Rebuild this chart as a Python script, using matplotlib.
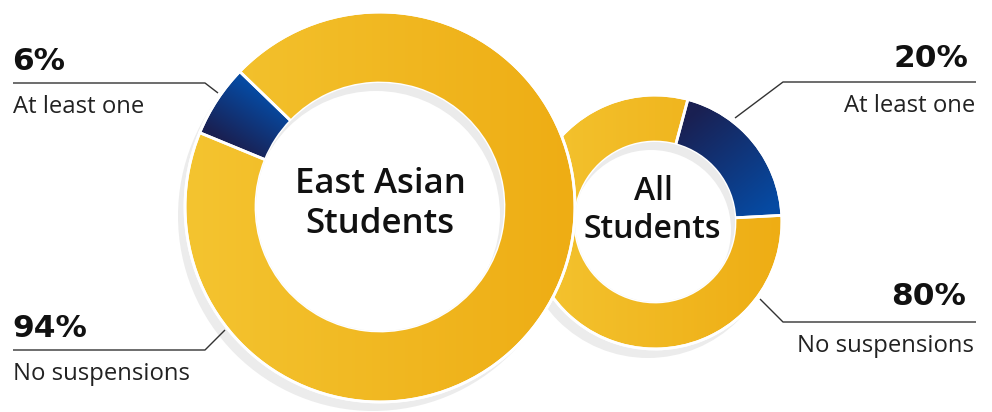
import matplotlib.pyplot as plt
from matplotlib.patches import Circle, Wedge
import numpy as np

W, H = 992, 412

groups = ["East Asian\nStudents", "All\nStudents"]
categories = ["At least one", "No suspensions"]
east_asian = [6, 94]
all_students = [20, 80]
pct_labels = [["6%", "94%"], ["20%", "80%"]]

YEL0, YEL1 = (244, 196, 48), (238, 173, 20)
BLU0, BLU1 = (26, 32, 82), (6, 74, 162)


def Y(y):
    return H - y


def gradient(ax, clip, extent, c0, c1, p0, p1, z):
    n = 300
    xs = np.linspace(extent[0], extent[1], n)
    ys = np.linspace(extent[2], extent[3], n)
    X, YY = np.meshgrid(xs, ys)
    d = np.array(p1) - np.array(p0)
    t = ((X - p0[0]) * d[0] + (YY - p0[1]) * d[1]) / (d @ d)
    t = np.clip(t, 0, 1)
    c0 = np.array(c0) / 255.0
    c1 = np.array(c1) / 255.0
    img = c0 * (1 - t[..., None]) + c1 * t[..., None]
    im = ax.imshow(img, extent=extent, origin="lower", aspect="auto", zorder=z, interpolation="bilinear")
    im.set_clip_path(clip)


def donut(ax, vals, cx, cy, R, r, start, z):
    cy = Y(cy)
    # drop shadow
    ax.add_patch(Circle((cx - 7, cy - 9), R, color="#ececec", zorder=z, lw=0))
    wedges, _ = ax.pie(vals, center=(cx, cy), radius=R, startangle=start, counterclock=False,
                       wedgeprops=dict(width=R - r, lw=0), colors=["#0d3c8a", "#f1b822"])
    ext = (cx - R, cx + R, cy - R, cy + R)
    rm = (R + r) / 2
    a0 = np.radians(start)
    a1 = np.radians(start - 360 * vals[0] / sum(vals))
    for i, w in enumerate(wedges):
        w.set_zorder(z + 1)
        if i == 0:
            p0 = (cx + rm * np.cos(a0), cy + rm * np.sin(a0))
            p1 = (cx + rm * np.cos(a1), cy + rm * np.sin(a1))
            gradient(ax, w, ext, BLU0, BLU1, p0, p1, z + 1.5)
        else:
            gradient(ax, w, ext, YEL0, YEL1, (cx - R, cy), (cx + R, cy), z + 1.5)
        ax.add_patch(Wedge(w.center, w.r, w.theta1, w.theta2, width=w.width, fill=False,
                           ec="white", lw=2, zorder=z + 2))
    ax.add_patch(Circle((cx, cy), R, fill=False, ec="white", lw=2, zorder=z + 2))
    # inner hole with soft inner shadow
    hole = Circle((cx, cy), r, color="#ebebeb", lw=0, zorder=z + 2.5)
    ax.add_patch(hole)
    inner = Circle((cx - 4, cy - 8), r, color="white", lw=0, zorder=z + 2.6)
    ax.add_patch(inner)
    inner.set_clip_path(hole)


fig = plt.figure(figsize=(W / 100, H / 100), dpi=100)
ax = fig.add_axes([0, 0, 1, 1])

donut(ax, all_students, 655, 222, 127, 80, 75, 1)
donut(ax, east_asian, 380, 207, 195, 124, 157.6, 10)

ax.set_xlim(0, W)
ax.set_ylim(0, H)
ax.set_aspect("equal")
ax.axis("off")

cfont = dict(family="Open Sans", weight="semibold", color="#111111", ha="center", va="baseline", zorder=30)
ax.text(380, Y(193), groups[0].split("\n")[0], fontsize=25, **cfont)
ax.text(380, Y(233), groups[0].split("\n")[1], fontsize=25, **cfont)
ax.text(653, Y(200), groups[1].split("\n")[0], fontsize=23, **cfont)
ax.text(652, Y(238), groups[1].split("\n")[1], fontsize=23, **cfont)

pfont = dict(family="DejaVu Sans", weight="bold", fontsize=22.5, color="#111111", va="baseline", zorder=30)
lfont = dict(family="Open Sans", fontsize=17.2, color="#222222", va="baseline", zorder=30)
lk = dict(color="#333333", lw=1, zorder=30, solid_capstyle="butt")

# left labels
ax.text(12, Y(70), pct_labels[0][0], ha="left", **pfont)
ax.text(13, Y(113), categories[0], ha="left", **lfont)
ax.plot([13, 205, 218], [Y(83), Y(83), Y(93)], **lk)
ax.text(12, Y(337), pct_labels[0][1], ha="left", **pfont)
ax.text(13, Y(380), categories[1], ha="left", **lfont)
ax.plot([13, 205, 225], [Y(350), Y(350), Y(330)], **lk)

# right labels
ax.text(968, Y(67), pct_labels[1][0], ha="right", **pfont)
ax.text(975, Y(112), categories[0], ha="right", **lfont)
ax.plot([976, 783, 735], [Y(82), Y(82), Y(118)], **lk)
ax.text(966, Y(305), pct_labels[1][1], ha="right", **pfont)
ax.text(974, Y(352), categories[1], ha="right", **lfont)
ax.plot([976, 783, 760], [Y(322), Y(322), Y(299)], **lk)

fig.savefig("out.png", dpi=100)
